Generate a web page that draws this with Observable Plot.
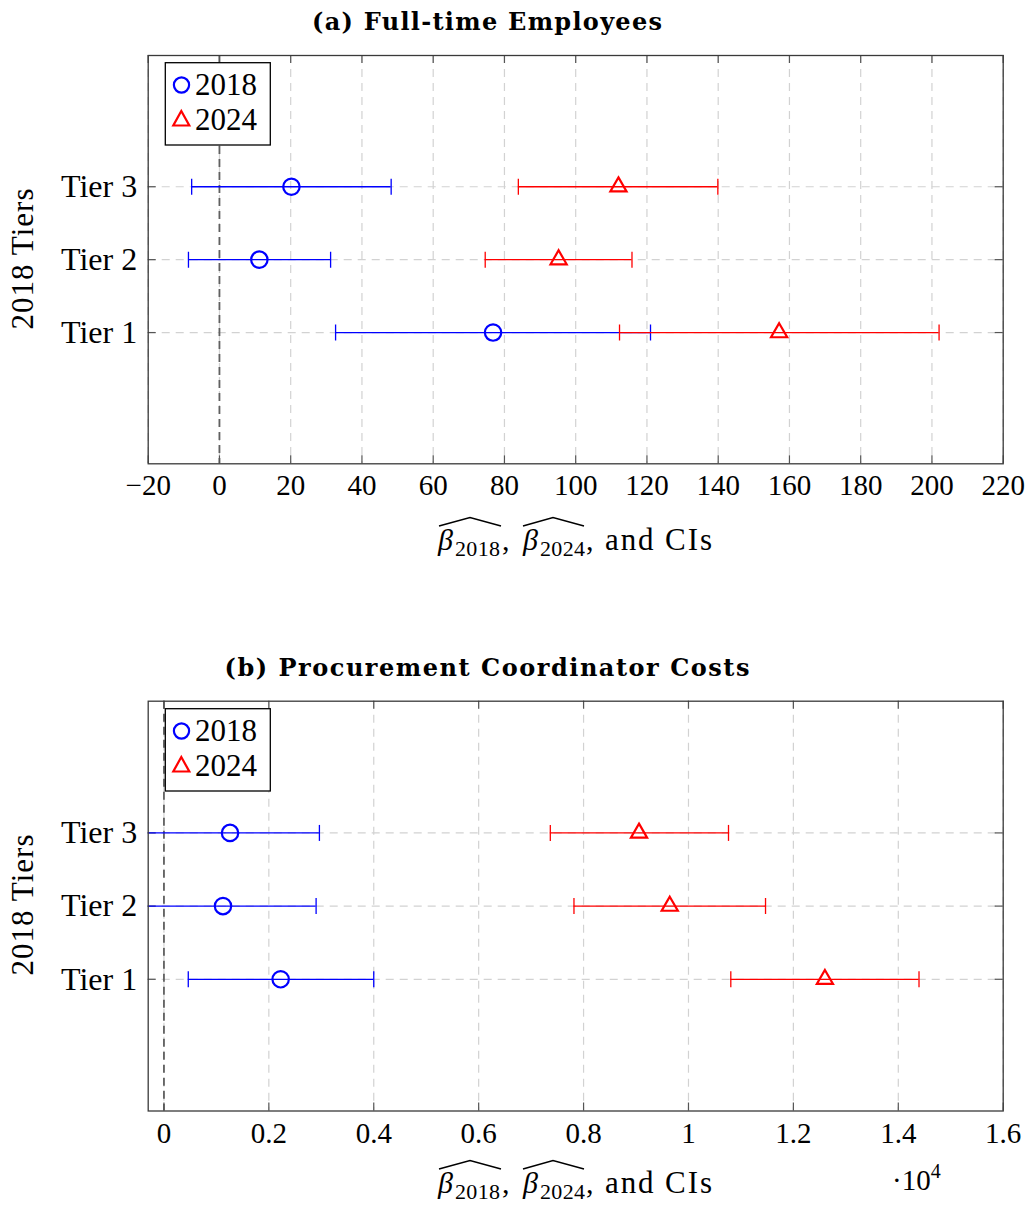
<!DOCTYPE html>
<html><head><meta charset="utf-8">
<script src="https://cdn.jsdelivr.net/npm/d3@7"></script>
<script src="https://cdn.jsdelivr.net/npm/@observablehq/plot@0.6"></script>
<style>
body{margin:0;background:#fff;}
#root{position:relative;width:1030px;height:1207px;overflow:hidden;font-family:"Liberation Serif","Times New Roman",serif;}
#root svg.plot{position:absolute;left:0;}
#overlay{position:absolute;left:0;top:0;pointer-events:none;}
</style></head><body><div id="root"></div>
<script>
// ---- shared categories ----
const tiers = [1, 2, 3];
const tierLabels = ["Tier 1", "Tier 2", "Tier 3"];
const seriesNames = ["2018", "2024"];

// ---- panel (a): Full-time Employees ----
const a2018Est = [76.8, 11.2, 20.2];
const a2018Lo  = [32.6, -8.7, -7.8];
const a2018Hi  = [121.0, 31.2, 48.2];
const a2024Est = [157.1, 95.2, 112.0];
const a2024Lo  = [112.3, 74.6, 83.9];
const a2024Hi  = [202.0, 115.8, 139.9];
const aTicks = [-20, 0, 20, 40, 60, 80, 100, 120, 140, 160, 180, 200, 220];

// ---- panel (b): Procurement Coordinator Costs (raw units) ----
const b2018Est = [2225, 1126, 1260];
const b2018Lo  = [464, -650, -445];
const b2018Hi  = [4000, 2901, 2964];
const b2024Est = [12601, 9643, 9057];
const b2024Lo  = [10807, 7817, 7366];
const b2024Hi  = [14395, 11469, 10763];
const bTicks = [0, 2000, 4000, 6000, 8000, 10000, 12000, 14000, 16000];
const bTickLabels = ["0", "0.2", "0.4", "0.6", "0.8", "1", "1.2", "1.4", "1.6"];

const rows = (lo, est, hi) => tiers.map((t, i) => ({tier: t, lo: lo[i], est: est[i], hi: hi[i]}));
const capSymbol = {draw(ctx, size) { const r = Math.sqrt(size / Math.PI); ctx.moveTo(0, -r); ctx.lineTo(0, r); }};
const FONT = '"Liberation Serif","Times New Roman",serif';

function panel({top, height, mt, mb, xDomain, ticks, tickFormat, r2018, r2024}) {
  const W = 1030, ml = 147.7, mr = 27.3;
  const fw = W - ml - mr, fh = height - mt - mb;
  const blue = "#0000ff", red = "#ff0000";
  const series = (data, color, symbol, r) => [
    Plot.ruleY(data, {y: "tier", x1: "lo", x2: "hi", stroke: color, strokeWidth: 1.3, clip: true}),
    Plot.dot(data, {x: "lo", y: "tier", symbol: capSymbol, r: 8, stroke: color, fill: "none", strokeWidth: 1.3, clip: true}),
    Plot.dot(data, {x: "hi", y: "tier", symbol: capSymbol, r: 8, stroke: color, fill: "none", strokeWidth: 1.3, clip: true}),
    Plot.dot(data, {x: "est", y: "tier", symbol, r, stroke: color, fill: "none", strokeWidth: 2.2})
  ];
  const svg = Plot.plot({
    width: W, height, marginTop: mt, marginBottom: mb, marginLeft: ml, marginRight: mr,
    x: {domain: xDomain},
    y: {domain: [-0.8, 4.8]},
    style: {fontFamily: FONT, color: "#000", background: "transparent", overflow: "visible"},
    marks: [
      Plot.gridX(ticks, {stroke: "#d2d2d2", strokeOpacity: 1, strokeWidth: 1.2, strokeDasharray: "8,6"}),
      Plot.gridY(tiers, {stroke: "#d2d2d2", strokeOpacity: 1, strokeWidth: 1.2, strokeDasharray: "8,6"}),
      Plot.ruleX([0], {stroke: "#606060", strokeWidth: 1.8, strokeDasharray: "8,5"}),
      Plot.tickX(ticks, {x: d => d, insetBottom: fh - 8, stroke: "#555", strokeWidth: 1.2}),
      Plot.tickX(ticks, {x: d => d, insetTop: fh - 8, stroke: "#555", strokeWidth: 1.2}),
      Plot.tickY(tiers, {y: d => d, insetRight: fw - 8, stroke: "#555", strokeWidth: 1.2}),
      Plot.tickY(tiers, {y: d => d, insetLeft: fw - 8, stroke: "#555", strokeWidth: 1.2}),
      ...series(r2018, blue, "circle", 8.2),
      ...series(r2024, red, "triangle", 6),
      Plot.frame({stroke: "#3a3a3a", strokeWidth: 1.3}),
      Plot.axisX({ticks, tickSize: 0, tickPadding: 11, tickFormat, fontSize: 29, label: null}),
      Plot.axisY({ticks: tiers, tickSize: 0, tickPadding: 11, tickFormat: d => tierLabels[tiers.indexOf(d)], fontSize: 32, label: null})
    ]
  });
  svg.classList.add("plot");
  svg.style.top = top + "px";
  return svg;
}

const root = document.getElementById("root");
root.appendChild(panel({top: 0, height: 520, mt: 55, mb: 56.7, xDomain: [-20, 220], ticks: aTicks,
  tickFormat: d => d < 0 ? "\u2212" + Math.abs(d) : String(d),
  r2018: rows(a2018Lo, a2018Est, a2018Hi), r2024: rows(a2024Lo, a2024Est, a2024Hi)}));
root.appendChild(panel({top: 645, height: 520, mt: 55.7, mb: 54.5, xDomain: [-300, 16000], ticks: bTicks,
  tickFormat: d => bTickLabels[bTicks.indexOf(d)],
  r2018: rows(b2018Lo, b2018Est, b2018Hi), r2024: rows(b2024Lo, b2024Est, b2024Hi)}));

// ---- overlay: titles, axis labels, legends ----
const NS = "http://www.w3.org/2000/svg";
const ov = document.createElementNS(NS, "svg");
ov.setAttribute("id", "overlay"); ov.setAttribute("width", 1030); ov.setAttribute("height", 1207);
root.appendChild(ov);
function el(tag, attrs, text, parent) {
  const e = document.createElementNS(NS, tag);
  for (const k in attrs) e.setAttribute(k, attrs[k]);
  if (text != null) e.textContent = text;
  (parent || ov).appendChild(e); return e;
}
const titles = ["(a) Full-time Employees", "(b) Procurement Coordinator Costs"];
const titleLen = [350, 525];
[0, 646].forEach((dy, p) => {
  el("text", {x: 487, y: 30 + dy, "text-anchor": "middle", "font-family": '"DejaVu Serif",serif', "font-weight": "bold",
    "font-size": 24, textLength: titleLen[p], lengthAdjust: "spacing"}, titles[p]);
  // y label
  el("text", {transform: `translate(33,${259 + dy}) rotate(-90)`, "text-anchor": "middle", "font-family": FONT,
    "font-size": 31, textLength: 141, lengthAdjust: "spacing"}, "2018 Tiers");
  // x label
  const by = 550 + dy - (p ? 3 : 0);
  const hy = 526 + dy - (p ? 3 : 0);
  el("text", {x: 438, y: by, "font-family": FONT, "font-style": "italic", "font-size": 30}, "\u03B2");
  el("text", {x: 455, y: by + 6, "font-family": FONT, "font-size": 22, textLength: 45, lengthAdjust: "spacing"}, "2018");
  el("text", {x: 502, y: by, "font-family": FONT, "font-size": 30}, ",");
  el("text", {x: 523, y: by, "font-family": FONT, "font-style": "italic", "font-size": 30}, "\u03B2");
  el("text", {x: 540, y: by + 6, "font-family": FONT, "font-size": 22, textLength: 45, lengthAdjust: "spacing"}, "2024");
  el("text", {x: 586, y: by, "font-family": FONT, "font-size": 30}, ",");
  el("text", {x: 605, y: by, "font-family": FONT, "font-size": 31, textLength: 107, lengthAdjust: "spacing"}, "and CIs");
  el("path", {d: `M439,${hy} L470,${hy - 8.5} L501,${hy}`, fill: "none", stroke: "#000", "stroke-width": 1.5, "stroke-linejoin": "miter"});
  el("path", {d: `M523,${hy} L553,${hy - 8.5} L584,${hy}`, fill: "none", stroke: "#000", "stroke-width": 1.5, "stroke-linejoin": "miter"});
  // legend
  el("rect", {x: 165.3, y: 62.7 + dy, width: 105, height: 82.3, fill: "#fff", stroke: "#000", "stroke-width": 1.3});
  el("circle", {cx: 181.5, cy: 85 + dy, r: 7.6, fill: "none", stroke: "#0000ff", "stroke-width": 2.2});
  el("path", {d: `M181.3,${111 + dy} L189.3,${125.5 + dy} L173.3,${125.5 + dy} Z`, fill: "none", stroke: "#ff0000", "stroke-width": 2.2});
  el("text", {x: 195, y: 95 + dy, "font-family": FONT, "font-size": 31, textLength: 62, lengthAdjust: "spacing"}, seriesNames[0]);
  el("text", {x: 195, y: 130 + dy, "font-family": FONT, "font-size": 31, textLength: 62, lengthAdjust: "spacing"}, seriesNames[1]);
});
const mult = el("text", {x: 892, y: 1190, "font-family": FONT, "font-size": 29}, "\u00B710");
el("tspan", {dy: -12, "font-size": 20}, "4", mult);
</script></body></html>
